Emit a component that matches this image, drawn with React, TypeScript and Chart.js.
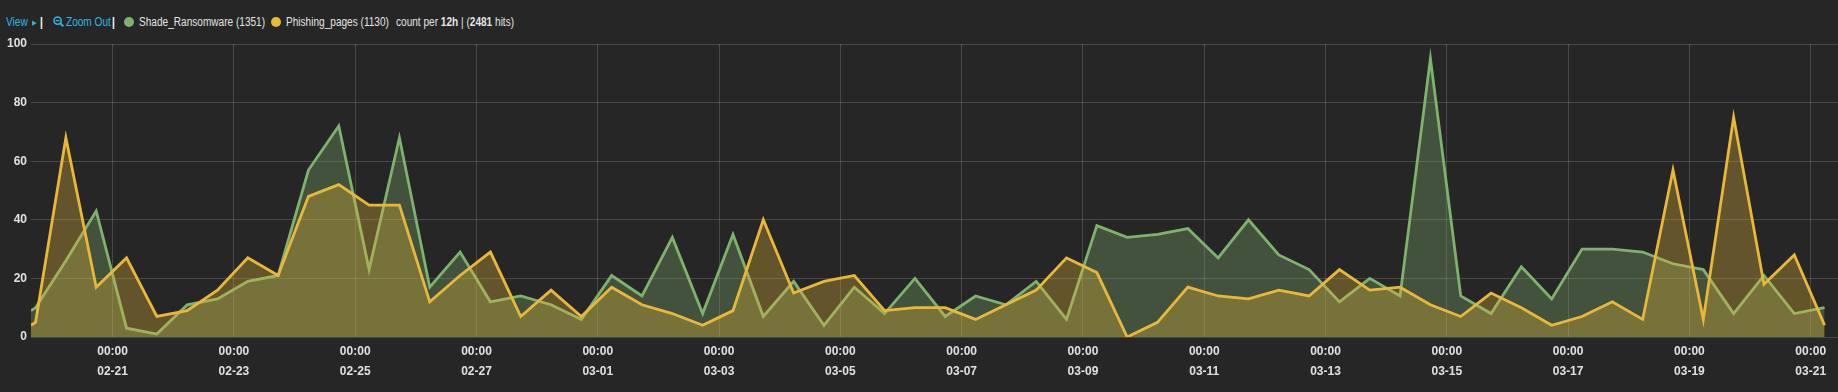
import React, { useEffect, useRef } from 'react';
import { Chart, registerables } from 'chart.js';

Chart.register(...registerables);

// Time axis in hours relative to 02-21 00:00 (local time)
const rangeStartHour = -32.3;
const firstBucketHour = -30.5; // 02-19 17:30
const bucketHours = 12;
const rangeEndHour = 682.8;

// Counts per 12h (first value = range start sample)
const shadeRansomware = [
  9, 10, 26, 43, 3, 1, 11, 13, 19, 21,
  57, 72, 23, 68, 17, 29, 12, 14, 11, 6,
  21, 14, 34, 8, 35, 7, 19, 4, 17, 8,
  20, 7, 14, 11, 19, 6, 38, 34, 35, 37,
  27, 40, 28, 23, 12, 20, 14, 95, 14, 8,
  24, 13, 30, 30, 29, 25, 23, 8, 21, 8,
  10,
];
const phishingPages = [
  4, 5, 68, 17, 27, 7, 9, 16, 27, 21,
  48, 52, 45, 45, 12, 21, 29, 7, 16, 7,
  17, 11, 8, 4, 9, 40, 15, 19, 21, 9,
  10, 10, 6, 11, 16, 27, 22, 0, 5, 17,
  14, 13, 16, 14, 23, 16, 17, 11, 7, 15,
  10, 4, 7, 12, 6, 57, 6, 75, 18, 28,
  4,
];

const tickHours = [0, 48, 96, 144, 192, 240, 288, 336, 384, 432, 480, 528, 576, 624, 672];
const tickDates = ['02-21', '02-23', '02-25', '02-27', '03-01', '03-03', '03-05', '03-07', '03-09', '03-11', '03-13', '03-15', '03-17', '03-19', '03-21'];
const tickTime = '00:00';
const yTicks = [0, 20, 40, 60, 80, 100];

const sampleHours = shadeRansomware.map((_, i) =>
  i === 0 ? rangeStartHour : firstBucketHour + (i - 1) * bucketHours
);

const GREEN = '#7EB26D';
const YELLOW = '#EAB839';
const BG = '#262626';
const TICK_COLOR = '#e0e0e0';
const GRID = 'rgba(255,255,255,0.16)';
const LINK = '#33b5e5';
const TICK_FONT = { family: '"Liberation Sans", Arial, sans-serif', size: 12, weight: 'bold', lineHeight: 1.667 };

export default function App() {
  const canvasRef = useRef<HTMLCanvasElement | null>(null);

  useEffect(() => {
    document.body.style.margin = '0';
    document.body.style.background = BG;
    const canvas = canvasRef.current;
    if (!canvas) return;
    const chart = new Chart(canvas, {
      type: 'line',
      data: {
        datasets: [
          {
            label: 'Phishing_pages',
            data: phishingPages.map((v, i) => ({ x: sampleHours[i], y: v })),
            borderColor: YELLOW,
            backgroundColor: 'rgba(234,184,57,0.32)',
            fill: 'origin',
            borderWidth: 2.8,
            pointRadius: 0,
            tension: 0,
            order: 1,
          },
          {
            label: 'Shade_Ransomware',
            data: shadeRansomware.map((v, i) => ({ x: sampleHours[i], y: v })),
            borderColor: GREEN,
            backgroundColor: 'rgba(126,178,109,0.32)',
            fill: 'origin',
            borderWidth: 2.8,
            pointRadius: 0,
            tension: 0,
            order: 2,
          },
        ],
      },
      options: {
        animation: false,
        responsive: false,
        maintainAspectRatio: false,
        layout: { padding: { top: 44, left: 0, right: 0, bottom: 0 } },
        plugins: { legend: { display: false }, tooltip: { enabled: false } },
        scales: {
          x: {
            type: 'linear',
            min: rangeStartHour,
            max: rangeEndHour,
            afterBuildTicks: (s: any) => {
              s.ticks = tickHours.map((v) => ({ value: v }));
            },
            afterFit: (s: any) => {
              s.height = 55;
            },
            ticks: {
              autoSkip: false,
              maxRotation: 0,
              padding: 5,
              color: TICK_COLOR,
              font: TICK_FONT,
              callback: (_v: any, i: number) => [tickTime, tickDates[i]],
            },
            grid: { color: GRID, drawTicks: false, lineWidth: 1 },
            border: { display: false },
          },
          y: {
            min: 0,
            max: 100,
            afterBuildTicks: (s: any) => {
              s.ticks = yTicks.map((v) => ({ value: v }));
            },
            afterFit: (s: any) => {
              s.width = 31;
            },
            ticks: {
              padding: 4,
              color: TICK_COLOR,
              font: { family: '"Liberation Sans", Arial, sans-serif', size: 12, weight: 'bold' },
            },
            grid: { color: GRID, drawTicks: false, lineWidth: 1 },
            border: { display: false },
          },
        },
      },
    } as any);
    return () => chart.destroy();
  }, []);

  const legendFont = '12px "Liberation Sans", Arial, sans-serif';
  const item = (left: number, extra: React.CSSProperties = {}): React.CSSProperties => ({
    position: 'absolute',
    left,
    top: 13,
    lineHeight: '18px',
    whiteSpace: 'nowrap',
    transform: 'scaleX(0.84)',
    transformOrigin: '0 50%',
    ...extra,
  });

  return (
    <div style={{ position: 'absolute', left: 0, top: 0, width: 1838, height: 392, background: BG, overflow: 'hidden' }}>
      <div style={{ position: 'absolute', left: 0, top: 0, width: 1838, height: 40, font: legendFont, color: '#e4e4e4' }}>
        <span style={item(6, { color: LINK })}>View</span>
        <span style={item(32, { color: LINK, fontSize: 7, top: 14 })}>▶</span>
        <span style={item(40, { color: '#ffffff', fontWeight: 'bold' })}>|</span>
        <svg style={{ position: 'absolute', left: 53, top: 16 }} width="11" height="11" viewBox="0 0 11 11">
          <circle cx="4.6" cy="4.6" r="3.6" fill="none" stroke={LINK} strokeWidth="1.6" />
          <line x1="2.8" y1="4.6" x2="6.4" y2="4.6" stroke={LINK} strokeWidth="1.4" />
          <line x1="7.3" y1="7.3" x2="10.2" y2="10.2" stroke={LINK} strokeWidth="2" />
        </svg>
        <span style={item(66, { color: LINK })}>Zoom Out</span>
        <span style={item(112, { color: '#ffffff', fontWeight: 'bold' })}>|</span>
        <span style={{ position: 'absolute', left: 124, top: 17, width: 10, height: 10, borderRadius: 5, background: GREEN }} />
        <span style={item(139)}>Shade_Ransomware (1351)</span>
        <span style={{ position: 'absolute', left: 271, top: 17, width: 10, height: 10, borderRadius: 5, background: YELLOW }} />
        <span style={item(286)}>Phishing_pages (1130)</span>
        <span style={item(396)}>
          count per <b>12h</b> | (<b>2481</b> hits)
        </span>
      </div>
      <canvas ref={canvasRef} width={1838} height={392} style={{ position: 'absolute', left: 0, top: 0, width: 1838, height: 392 }} />
    </div>
  );
}
